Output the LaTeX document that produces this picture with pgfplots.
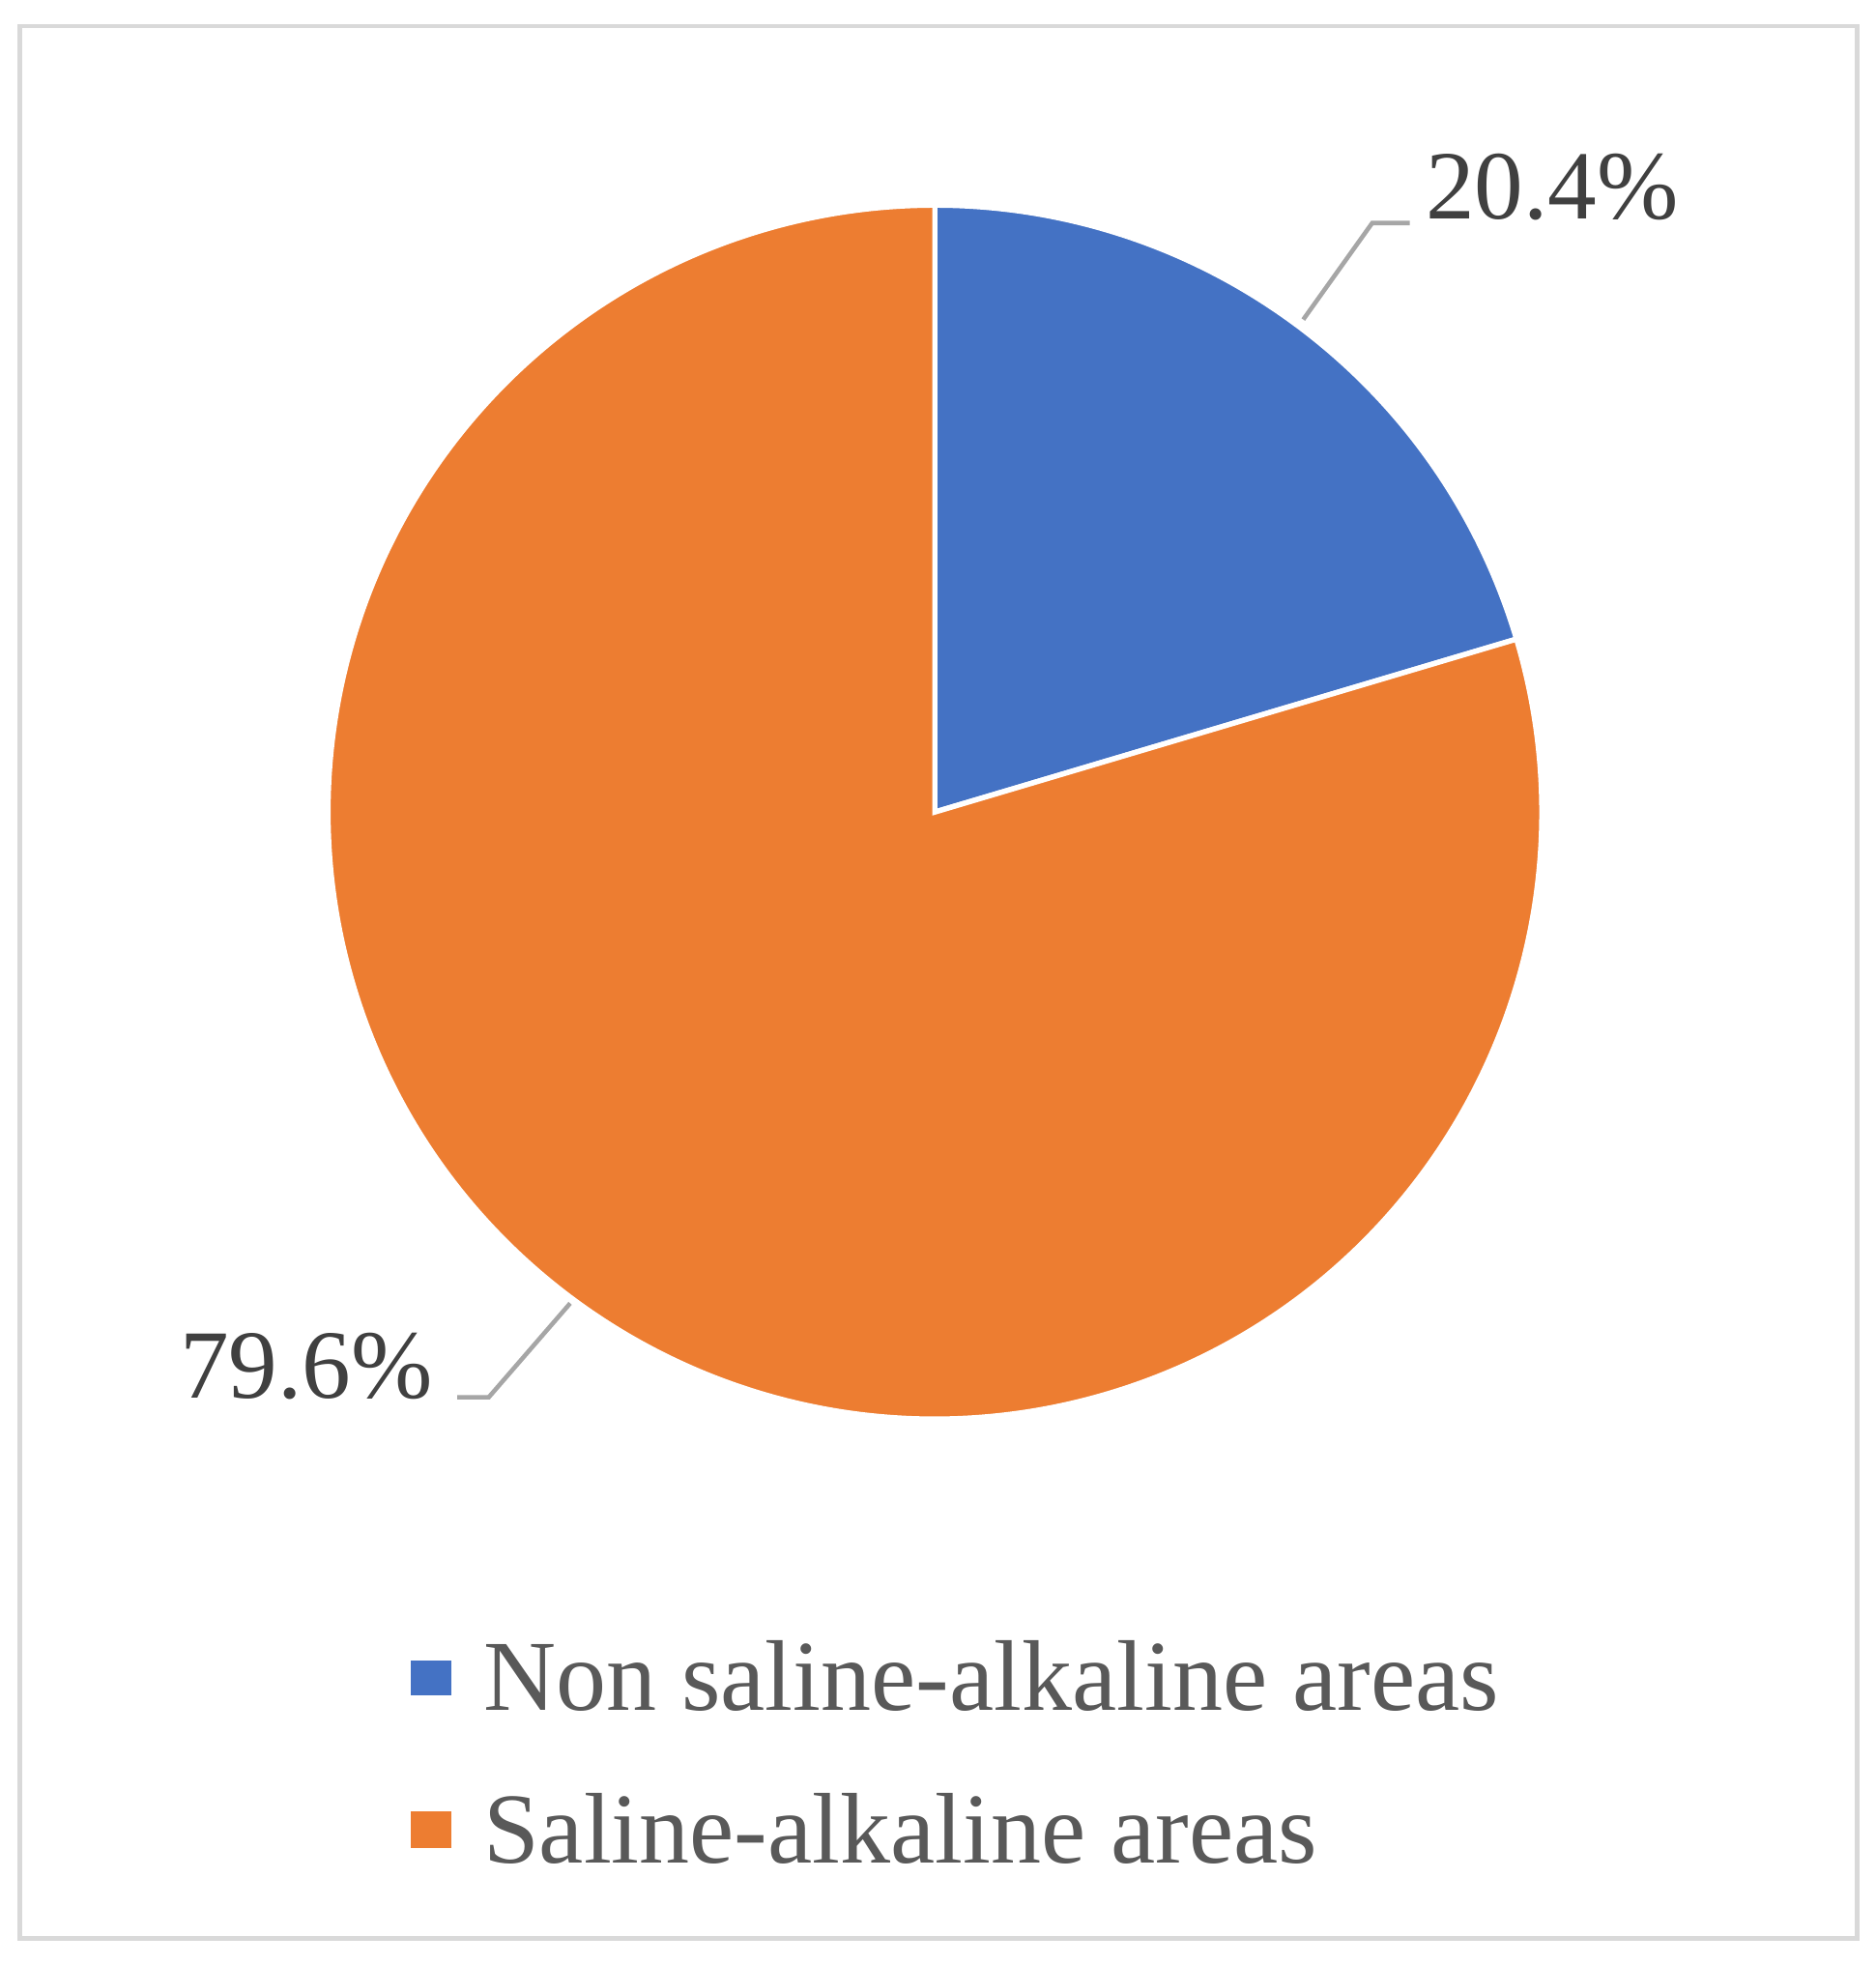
\documentclass[border=0pt]{standalone}
\usepackage{fontspec}
\setmainfont{Liberation Serif}
\usepackage{pgfplots}
\usepackage{pgfplotstable}
\pgfplotsset{compat=1.18}

\definecolor{pieblue}{HTML}{4472C4}
\definecolor{pieorange}{HTML}{ED7D31}
\definecolor{leadgray}{HTML}{A6A6A6}
\definecolor{txtgray}{HTML}{404040}
\definecolor{leggray}{HTML}{595959}
\definecolor{framegray}{HTML}{D9D9D9}

% share of the area, in percent
\pgfplotstableread{
label value
non   20.4
sal   79.6
}\piedata

\begin{document}
\begin{tikzpicture}
\pgfplotstablegetelem{0}{value}\of\piedata
\pgfmathsetmacro{\endA}{90-3.6*\pgfplotsretval}
\begin{axis}[
    x=0.01cm, y=0.01cm,
    xmin=0, xmax=1497,
    ymin=0, ymax=1568,
    hide axis,
    clip=false,
]
\path (axis cs:0,0) rectangle (axis cs:1497,1568);
% frame
\draw[framegray, line width=1pt] (axis cs:16,21) rectangle (axis cs:1482,1547);
%
% slices
\filldraw[fill=pieblue, draw=white, line width=1.2pt]
    (axis cs:746,920) -- ++(90:4.84cm)
    arc[start angle=90, end angle=\endA, radius=4.84cm] -- cycle;
\filldraw[fill=pieorange, draw=white, line width=1.2pt]
    (axis cs:746,920) -- ++(\endA:4.84cm)
    arc[start angle=\endA, end angle=-270, radius=4.84cm] -- cycle;
%
% data labels
\draw[leadgray, line width=1pt]
    (axis cs:1040,1313) -- (axis cs:1095,1390) -- (axis cs:1125,1390);
\node[anchor=base west, inner sep=0pt, text=txtgray,
      font=\fontsize{22.2}{27}\selectfont]
    at (axis cs:1137,1393) {20.4\%};
\draw[leadgray, line width=1pt]
    (axis cs:365,453) -- (axis cs:390,453) -- (axis cs:455,528);
\node[anchor=base east, inner sep=0pt, text=txtgray,
      font=\fontsize{22.2}{27}\selectfont]
    at (axis cs:346,452) {79.6\%};
%
% legend
\fill[pieblue] (axis cs:328,215) rectangle (axis cs:360,243);
\node[anchor=base west, inner sep=0pt, text=leggray,
      font=\fontsize{22.8}{27}\selectfont]
    at (axis cs:385,203) {Non saline-alkaline areas};
\fill[pieorange] (axis cs:328,93) rectangle (axis cs:360,123);
\node[anchor=base west, inner sep=0pt, text=leggray,
      font=\fontsize{22.8}{27}\selectfont]
    at (axis cs:385,81) {Saline-alkaline areas};
\end{axis}
\end{tikzpicture}
\end{document}
